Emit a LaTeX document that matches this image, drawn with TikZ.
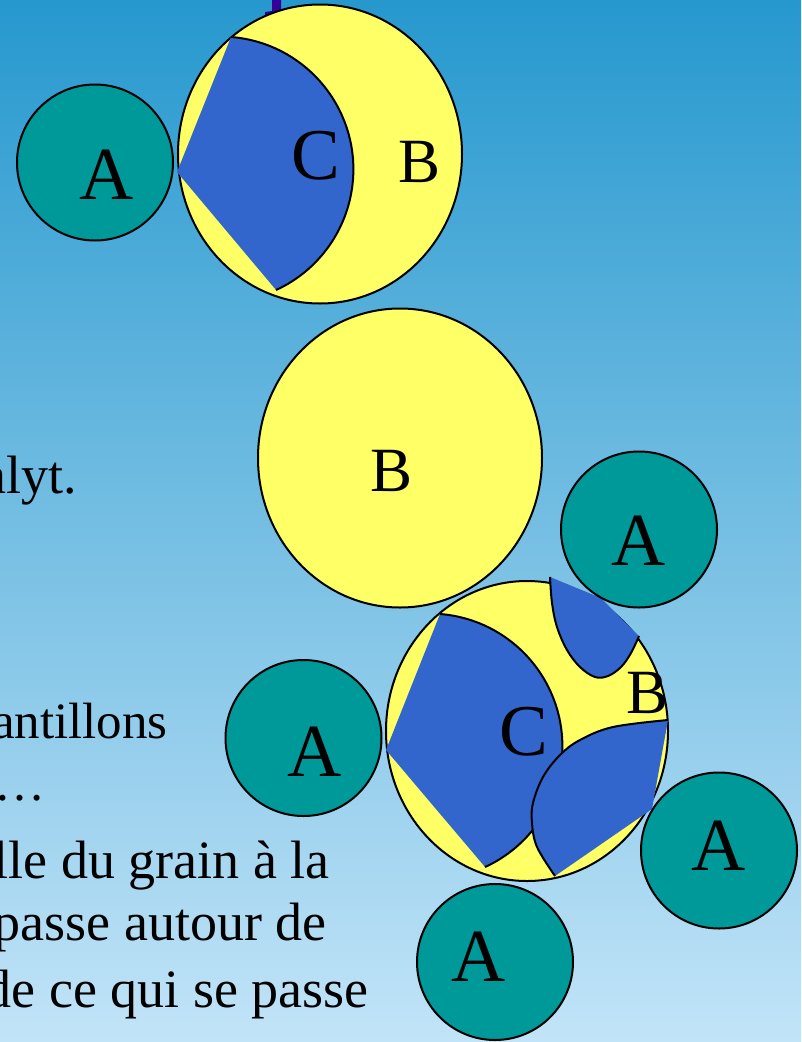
\documentclass[tikz,border=0pt]{standalone}
\usepackage{fontspec}
\setmainfont{Liberation Serif}
\usetikzlibrary{shapes.geometric}
\definecolor{bgtop}{RGB}{38,152,206}
\definecolor{bgbot}{RGB}{194,228,248}
\definecolor{tealA}{RGB}{0,153,153}
\definecolor{yelB}{RGB}{255,255,102}
\definecolor{bluC}{RGB}{51,102,204}
\definecolor{purp}{RGB}{51,0,153}
\tikzset{
  acirc/.style={circle, draw=black, line width=2pt, fill=tealA, minimum size=156pt, inner sep=0pt},
  bell/.style={ellipse, draw=black, line width=2pt, fill=yelB, minimum width=284pt, minimum height=299pt, inner sep=0pt},
  cfill/.style={fill=bluC},
  carc/.style={draw=black, line width=2pt},
  biglab/.style={anchor=base, inner sep=0pt, font=\fontsize{75}{75}\selectfont},
  clab/.style={anchor=base, inner sep=0pt, font=\fontsize{73}{73}\selectfont},
  blab/.style={anchor=base, inner sep=0pt, font=\fontsize{63}{63}\selectfont},
  txt/.style={anchor=base east, inner sep=0pt, font=\fontsize{54}{64}\selectfont},
  stxt/.style={anchor=base east, inner sep=0pt, font=\fontsize{51}{60}\selectfont},
}
\begin{document}
\begin{tikzpicture}[x=1pt,y=-1pt]
\useasboundingbox (0,0) rectangle (801,1042);
\clip (0,0) rectangle (801,1042);
\shade[top color=bgtop, bottom color=bgbot] (0,0) rectangle (801,1042);
% cut-off title stroke
\fill[purp] (272,0) -- (281,0) -- (281,18) -- (265,18) -- (265,12) -- (272,11) -- cycle;

% ---- top group ----
\node[bell] (B1) at (320,154) {};
\coordinate (v1) at (177,172);
\coordinate (p1) at (231,37);
\fill[cfill] (v1) -- (p1) arc[start angle=-85.5, end angle=65.3, radius=132.8] -- cycle;
\draw[carc] (p1) arc[start angle=-85.5, end angle=65.3, radius=132.8];
\node[acirc] (A1) at (95,162.5) {};
\node[biglab] (lA1) at (107,199) {A};
\node[clab] (lC1) at (316,179) {C};
\node[blab] (lB1) at (420,182) {B};

% ---- middle ----
\node[bell] (B2) at (400,458) {};
\node[blab] (lB2) at (392,491) {B};

% ---- bottom group ----
\node[bell, minimum width=282pt, minimum height=300pt] (B3) at (527,731) {};
% big C sector
\coordinate (v3) at (386,750);
\coordinate (p3) at (440,614);
\fill[cfill] (v3) -- (p3) arc[start angle=-85.5, end angle=65.3, radius=132.8] -- cycle;
\draw[carc] (p3) arc[start angle=-85.5, end angle=65.3, radius=132.8];
% small sector near A2
\coordinate (v4) at (601,598);
\fill[cfill] (v4) -- plot[smooth, tension=0.6] coordinates {(550,577) (552,603) (557,627) (567,650) (580,667) (595,677) (608,676) (621,667) (631,653) (639,636)} -- cycle;
\draw[carc] plot[smooth, tension=0.6] coordinates {(550,577) (552,603) (557,627) (567,650) (580,667) (595,677) (608,676) (621,667) (631,653) (639,636)};
% lens near A4
\coordinate (v5) at (652,809);
\fill[cfill] (v5) -- plot[smooth, tension=0.6] coordinates {(668,720) (613,727) (580,740) (560,755) (543,777) (533,803) (532,823) (537,847) (555,876)} -- cycle;
\draw[carc] plot[smooth, tension=0.6] coordinates {(668,720) (613,727) (580,740) (560,755) (543,777) (533,803) (532,823) (537,847) (555,876)};
\node[clab] (lC3) at (524,755) {C};
\node[blab] (lB3) at (648,713) {B};

\node[acirc] (A2) at (639,529.5) {};
\node[acirc] (A3) at (303.5,738) {};
\node[acirc] (A4) at (719,850.5) {};
\node[acirc] (A5) at (495,962) {};
\node[biglab] (lA2) at (639,565) {A};
\node[biglab] (lA3) at (315,776) {A};
\node[biglab] (lA4) at (719,870) {A};
\node[biglab] (lA5) at (479,981) {A};

% ---- left text (cut off) ----
\node[txt] (t1) at (77,493) {alyt.};
\node[stxt] (t2) at (168,738) {antillons};
\node[stxt] (t3) at (46,800) {…};
\node[txt] (t4) at (330,878) {lle du grain à la};
\node[txt] (t5) at (327,940) {passe autour de};
\node[txt] (t6) at (369,1007) {de ce qui se passe};
\end{tikzpicture}
\end{document}
